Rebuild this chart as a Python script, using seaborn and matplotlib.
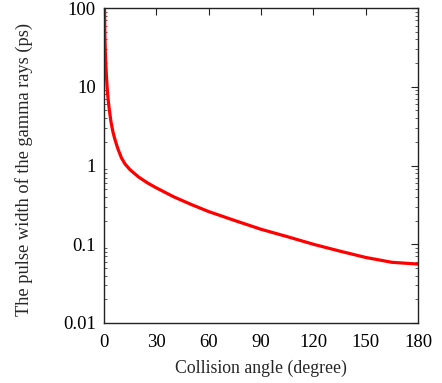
import numpy as np
import pandas as pd
import matplotlib
matplotlib.use("Agg")
import matplotlib.pyplot as plt
import seaborn as sns
from matplotlib.ticker import LogLocator, FixedLocator, NullFormatter

angle = [0.3, 0.5, 0.75, 1, 1.5, 2, 2.5, 3, 4, 5, 6, 7, 8, 10, 12, 15, 20, 25, 30, 40, 50, 60, 75, 90, 105, 120, 135, 150, 165, 180]
width = [100, 45, 28, 20, 12.5, 8.5, 6.5, 5.2, 3.6, 2.75, 2.25, 1.9, 1.62, 1.25, 1.05, 0.88, 0.71, 0.60, 0.52, 0.40, 0.32, 0.26, 0.20, 0.155, 0.125, 0.10, 0.082, 0.068, 0.059, 0.056]
xticks = [0, 30, 60, 90, 120, 150, 180]
yticks = [0.01, 0.1, 1, 10, 100]
yticklabels = ["0.01", "0.1", "1", "10", "100"]

sns.set_style("white")
plt.rcParams['font.family'] = ['Liberation Serif', 'DejaVu Serif']

df = pd.DataFrame({"angle": angle, "width": width})

fig = plt.figure(figsize=(4.42, 3.83), dpi=100)
ax = fig.add_axes([0.2353, 0.1567, 0.9457 - 0.2353, 0.979 - 0.1567])
sns.lineplot(data=df, x="angle", y="width", color="#ff0000", linewidth=2.3, ax=ax)
ax.set_yscale("log")
ax.set_xlim(0, 180)
ax.set_ylim(0.01, 100)
ax.set_xticks(xticks)
ax.set_xticklabels([str(t) for t in xticks])
ax.yaxis.set_major_locator(FixedLocator(yticks))
ax.set_yticklabels(yticklabels)
ax.yaxis.set_minor_locator(LogLocator(base=10, subs=np.arange(2, 10), numticks=20))
ax.yaxis.set_minor_formatter(NullFormatter())
ax.tick_params(axis="both", which="major", direction="in", length=5, width=0.8,
               top=True, right=True, labelsize=13.5, colors="#222222", labelcolor="black")
ax.tick_params(axis="x", which="major", pad=8)
ax.tick_params(axis="y", which="major", pad=6)
ax.tick_params(axis="y", which="minor", direction="in", length=2.5, width=0.6,
               left=True, right=True, colors="#444444")
for s in ax.spines.values():
    s.set_color("#222222")
    s.set_linewidth(1.0)
    s.set_visible(True)
ax.set_xlabel("Collision angle (degree)", fontsize=12.8, labelpad=6)
ax.set_ylabel("The pulse width of the gamma rays (ps)", fontsize=13.2)
ax.yaxis.set_label_coords(-0.226, 0.486)
fig.savefig("out.png", dpi=100)
